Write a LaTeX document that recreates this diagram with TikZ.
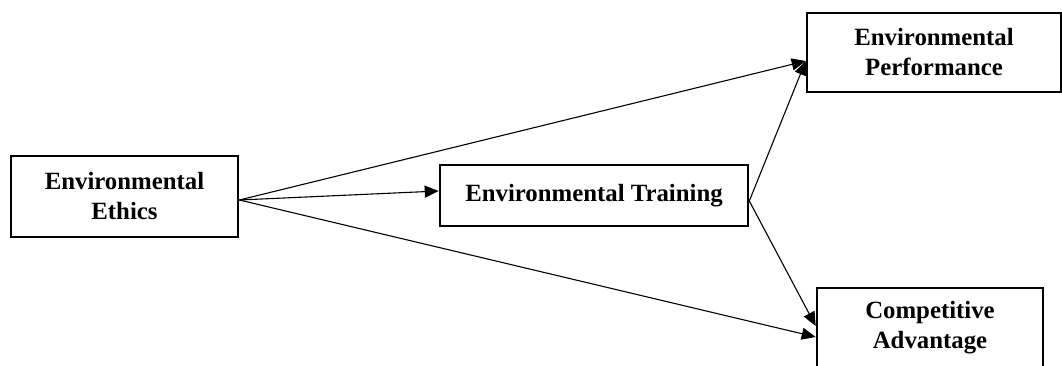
\documentclass[tikz,border=0pt]{standalone}
\usepackage{fontspec}
\setmainfont{Liberation Serif}
\usetikzlibrary{arrows.meta,positioning}
\tikzset{
  factor/.style={draw, line width=1.3pt, align=center,
    font=\fontsize{12.4pt}{15pt}\selectfont\bfseries, inner sep=0pt},
  arr/.style={-{Triangle[length=7pt, width=6pt]}, line width=0.55pt},
}
\begin{document}
\begin{tikzpicture}[x=0.5pt, y=-0.5pt]
  \useasboundingbox (0,0) rectangle (1062,365);
  \node[factor, minimum width=113.5pt, minimum height=40.5pt] (ethics) at (124.5,196.5)
    {Environmental\\Ethics};
  \node[factor, minimum width=154pt, minimum height=30.5pt] (train) at (594,195.5)
    {Environmental Training};
  \node[factor, minimum width=127pt, minimum height=39.5pt] (perf) at (934,52.5)
    {Environmental\\Performance};
  \node[factor, minimum width=113pt, minimum height=39.5pt] (comp) at (930,327.5)
    {Competitive\\Advantage};

  % Paths of the model
  \draw[arr] ([yshift=-1.75pt]ethics.east) -- ([yshift=-4.25pt]perf.west);
  \draw[arr] ([yshift=-1.75pt]ethics.east) -- ([yshift=2.25pt]train.west);
  \draw[arr] ([yshift=-1.75pt]ethics.east) -- ([yshift=-4.75pt]comp.west);
  \draw[arr] ([yshift=-2.75pt]train.east) -- ([yshift=-4.25pt]perf.west);
  \draw[arr] ([yshift=-2.75pt]train.east) -- ([yshift=0.75pt]comp.west);
\end{tikzpicture}
\end{document}
